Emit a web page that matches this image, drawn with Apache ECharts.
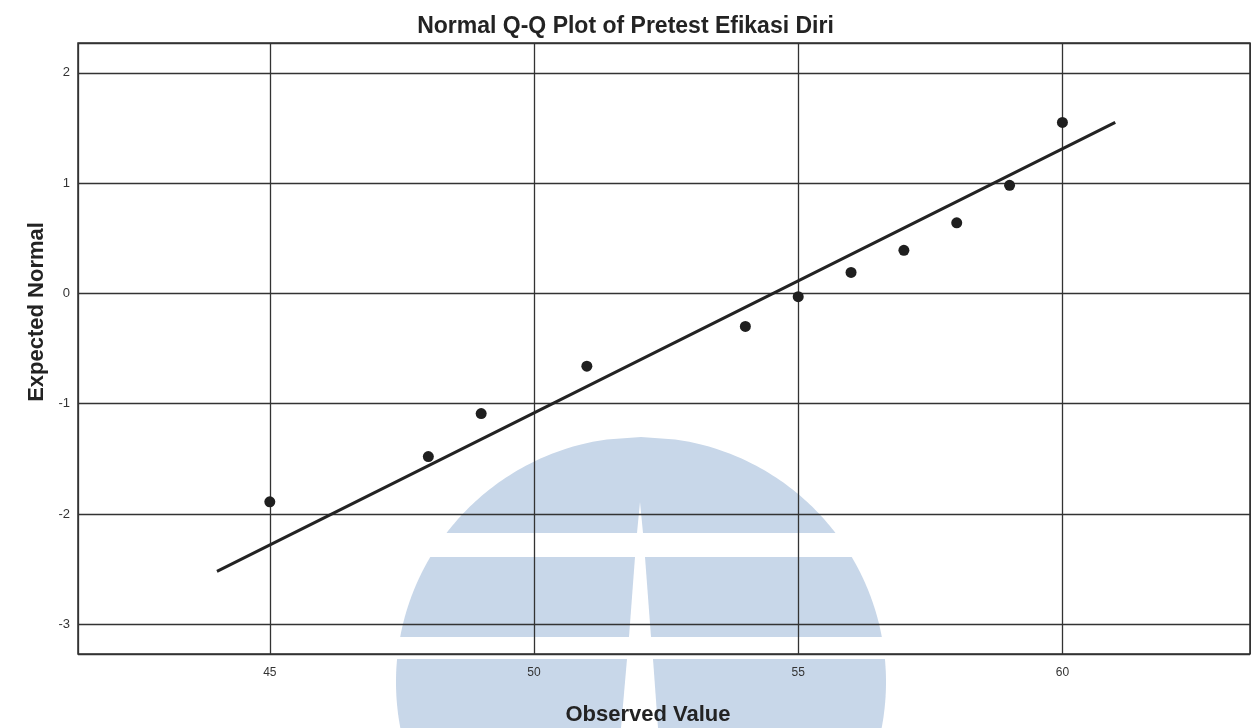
<!DOCTYPE html>
<html>
<head>
<meta charset="utf-8">
<title>Normal Q-Q Plot of Pretest Efikasi Diri</title>
<script src="https://cdn.jsdelivr.net/npm/echarts@6/dist/echarts.min.js"></script>
<style>
  html, body { margin: 0; padding: 0; background: #ffffff; }
  #chart { width: 1251px; height: 728px; }
</style>
</head>
<body>
<div id="chart"></div>
<script>
// Observed pretest scores and their expected normal quantiles
const observedValues = [45, 48, 49, 51, 54, 55, 56, 57, 58, 59, 60];
const expectedNormal = [-1.89, -1.48, -1.09, -0.66, -0.30, -0.03, 0.19, 0.39, 0.64, 0.98, 1.55];

// Reference line end points (observed value, expected normal)
const refLineX = [44, 61];
const refLineY = [-2.52, 1.55];

// Axis extents
const xRange = [41.37, 63.55];
const yRange = [-3.27, 2.27];

const titleText = 'Normal Q-Q Plot of Pretest Efikasi Diri';
const xTitle = 'Observed Value';
const yTitle = 'Expected Normal';

const ink = '#232323';
const fontFamily = '"Liberation Sans", Arial, sans-serif';

// Pale emblem in the lower middle of the page: a dome cut into three
// bands with a narrow stem running down its centre.
function emblemPieces() {
  const cx = 641, cy = 682, R = 245;
  const fill = '#c8d7e9';
  const half = y => Math.sqrt(Math.max(0, R * R - (y - cy) * (y - cy)));
  const arc = (y0, y1, side) => {
    const pts = [];
    const steps = 40;
    for (let i = 0; i <= steps; i++) {
      const y = y0 + (y1 - y0) * i / steps;
      pts.push([cx + side * half(y), y]);
    }
    return pts;
  };
  // top cap with a thin notch cut up from its lower edge
  const cap = arc(437, 533, -1)
    .concat([[637, 533], [640, 502], [643, 533]])
    .concat(arc(533, 437, 1));
  // middle band
  const midL = [[635, 557]].concat(arc(557, 637, -1)).concat([[629, 637]]);
  const midR = [[645, 557]].concat(arc(557, 637, 1)).concat([[651, 637]]);
  // lower band
  const lowL = [[627, 659]].concat(arc(659, 728, -1)).concat([[621, 728]]);
  const lowR = [[653, 659]].concat(arc(659, 728, 1)).concat([[658, 728]]);
  return [cap, midL, midR, lowL, lowR].map(points => ({
    type: 'polygon',
    z: -1,
    silent: true,
    shape: { points },
    style: { fill }
  }));
}

const chart = echarts.init(document.getElementById('chart'), null, { renderer: 'canvas' });

const lineData = refLineX.map((x, i) => [x, refLineY[i]]);
const pointData = observedValues.map((x, i) => [x, expectedNormal[i]]);

chart.setOption({
  backgroundColor: '#ffffff',
  animation: false,
  title: {
    text: titleText,
    left: 'center',
    top: 10,
    textStyle: { fontFamily, fontSize: 23, fontWeight: 'bold', color: ink }
  },
  grid: {
    left: 78, top: 43, right: 1, bottom: 74,
    show: true,
    borderColor: '#2e2e2e',
    borderWidth: 1.5,
    backgroundColor: 'transparent'
  },
  graphic: emblemPieces().concat([
    {
      type: 'text',
      x: 37, y: 312,
      rotation: Math.PI / 2,
      style: {
        text: yTitle, fill: ink, fontFamily,
        fontSize: 22, fontWeight: 'bold',
        align: 'center', verticalAlign: 'middle'
      }
    },
    {
      type: 'text',
      x: 648, y: 715,
      style: {
        text: xTitle, fill: ink, fontFamily,
        fontSize: 22, fontWeight: 'bold',
        align: 'center', verticalAlign: 'middle'
      }
    }
  ]),
  xAxis: {
    type: 'value',
    min: xRange[0],
    max: xRange[1],
    minInterval: 5,
    maxInterval: 5,
    axisLine: { show: false },
    axisTick: { show: false },
    axisLabel: {
      showMinLabel: false, showMaxLabel: false,
      margin: 13, color: '#333', fontSize: 12, fontFamily
    },
    splitLine: { show: true, lineStyle: { color: '#333', width: 1.3 } }
  },
  yAxis: {
    type: 'value',
    min: yRange[0],
    max: yRange[1],
    minInterval: 1,
    maxInterval: 1,
    axisLine: { show: false },
    axisTick: { show: false },
    axisLabel: {
      showMinLabel: false, showMaxLabel: false,
      margin: 8, color: '#333', fontSize: 13, fontFamily
    },
    splitLine: { show: true, lineStyle: { color: '#333', width: 1.3 } }
  },
  series: [
    {
      type: 'line',
      data: lineData,
      symbol: 'none',
      lineStyle: { color: ink, width: 3 },
      z: 3
    },
    {
      type: 'scatter',
      data: pointData,
      symbol: 'circle',
      symbolSize: 11,
      itemStyle: { color: '#1f1f1f', opacity: 1 },
      z: 4
    }
  ]
});
</script>
</body>
</html>
